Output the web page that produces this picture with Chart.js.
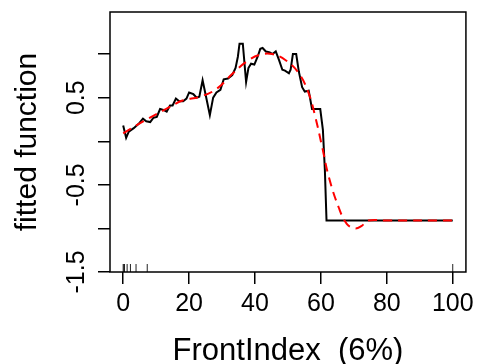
<!DOCTYPE html>
<html>
<head>
<meta charset="utf-8">
<script src="https://cdn.jsdelivr.net/npm/chart.js@4"></script>
<style>
  html, body { margin: 0; padding: 0; background: #fff; }
  #wrap { width: 479px; height: 364px; }
</style>
</head>
<body>
<div id="wrap"><canvas id="myChart" width="479" height="364"></canvas></div>
<script>
// partial dependence (black)
const fitX = [0, 0.9, 1.7, 3.2, 4.7, 6.0, 7.0, 8.2, 9.2, 10.2, 11.2, 12.2, 13.2, 14.2, 15.0,
    16.0, 17.0, 18.2, 19.2, 20.0, 21.3, 22.3, 23.1, 24.1, 25.1, 26.3, 27.3, 28.3, 29.5, 30.5,
    31.8, 33.1, 34.1, 34.8, 35.3, 36.3, 37.3, 38.0, 38.8, 39.8, 40.8, 41.6, 42.3, 43.3, 44.5,
    45.3, 46.3, 47.3, 48.3, 49.1, 50.3, 50.8, 51.5, 52.5, 53.3, 54.3, 55.1, 56.3, 57.3, 58.8,
    59.8, 60.6, 61.2, 61.7, 100];
const fitY = [0.18, 0.04, 0.11, 0.15, 0.2, 0.26, 0.23, 0.22, 0.27, 0.28, 0.37, 0.36, 0.34, 0.41, 0.41,
    0.49, 0.46, 0.46, 0.49, 0.56, 0.54, 0.5, 0.51, 0.7, 0.52, 0.3, 0.5, 0.56, 0.59, 0.71,
    0.72, 0.76, 0.84, 0.97, 1.12, 1.12, 0.68, 0.84, 0.89, 0.88, 0.97, 1.06, 1.07, 1.03, 1.02,
    1.0, 1.03, 0.93, 0.82, 0.81, 0.78, 0.82, 1.0, 1.0, 0.8, 0.62, 0.57, 0.58, 0.37, 0.37,
    0.37, 0.13, -0.33, -0.91, -0.91];

// smoothed fit (red dashed)
const smoothX = [0, 6.2, 13.2, 18.2, 23.3, 28.3, 33.3, 37.3, 41.3, 45.3, 49.3, 53.3, 56.3,
    58.3, 60.4, 62.4, 65.4, 67.9, 70.4, 72.4, 74.4, 80, 100];
const smoothY = [0.09, 0.23, 0.375, 0.47, 0.51, 0.6, 0.78, 0.91, 0.99, 1.0, 0.93, 0.78, 0.55,
    0.28, -0.07, -0.41, -0.76, -0.95, -1.0, -0.97, -0.91, -0.91, -0.91];

// rug marks
const rugX = [0, 0.2, 0.4, 1.2, 2.2, 3.9, 7.3, 100];

const xTicks = [0, 20, 40, 60, 80, 100];
const yTicks = [-1.5, -1.0, -0.5, 0, 0.5, 1.0];
const yLabels = [-1.5, -0.5, 0.5];

const FONT = 'Liberation Sans, Arial, sans-serif';

function pts(xs, ys) {
    return xs.map((x, i) => ({ x: x, y: ys[i] }));
}

// box, rug and rotated y labels like R
const rPlot = {
    id: 'rPlot',
    afterDatasetsDraw(chart) {
        const { ctx, chartArea: a, scales } = chart;
        ctx.save();
        // rug
        ctx.strokeStyle = '#222';
        ctx.lineWidth = 1;
        rugX.forEach(v => {
            const px = scales.x.getPixelForValue(v);
            ctx.beginPath();
            ctx.moveTo(px, a.bottom);
            ctx.lineTo(px, a.bottom - 8);
            ctx.stroke();
        });
        // box
        ctx.strokeStyle = '#000';
        ctx.lineWidth = 1.5;
        ctx.strokeRect(a.left, a.top, a.right - a.left, a.bottom - a.top);
        // y labels
        ctx.fillStyle = '#000';
        ctx.font = '25px ' + FONT;
        ctx.textAlign = 'center';
        ctx.textBaseline = 'middle';
        yLabels.forEach(v => {
            const py = scales.y.getPixelForValue(v);
            ctx.save();
            ctx.translate(77, py);
            ctx.rotate(-Math.PI / 2);
            ctx.fillText(String(v), 0, 0);
            ctx.restore();
        });
        ctx.restore();
    }
};

const ctx = document.getElementById('myChart').getContext('2d');
new Chart(ctx, {
    type: 'line',
    data: {
        datasets: [{
            label: 'smooth',
            data: pts(smoothX, smoothY),
            borderColor: '#ff0000',
            borderWidth: 2,
            borderDash: [9, 6],
            pointRadius: 0,
            tension: 0.4,
            fill: false
        }, {
            label: 'fitted',
            data: pts(fitX, fitY),
            borderColor: '#000000',
            borderWidth: 2,
            pointRadius: 0,
            tension: 0,
            fill: false
        }]
    },
    options: {
        responsive: false,
        animation: false,
        layout: { padding: { top: 12, right: 11, left: 0, bottom: 0 } },
        plugins: {
            legend: { display: false },
            tooltip: { enabled: false }
        },
        scales: {
            x: {
                type: 'linear',
                min: -4,
                max: 104,
                afterBuildTicks: s => { s.ticks = xTicks.map(v => ({ value: v })); },
                afterFit: s => { s.height = 92; },
                grid: { drawOnChartArea: false, drawTicks: true, tickLength: 12, color: '#000', lineWidth: 1.5 },
                border: { display: false },
                ticks: { color: '#000', font: { size: 25, family: FONT }, padding: 5, maxRotation: 0 },
                title: { display: true, text: 'FrontIndex  (6%)', color: '#000', font: { size: 31, family: FONT }, padding: { top: 0, bottom: -6 } }
            },
            y: {
                type: 'linear',
                min: -1.5,
                max: 1.483,
                afterBuildTicks: s => { s.ticks = yTicks.map(v => ({ value: v })); },
                afterFit: s => { s.width = 110; },
                grid: { drawOnChartArea: false, drawTicks: true, tickLength: 12, color: '#000', lineWidth: 1.5 },
                border: { display: false },
                ticks: { display: false },
                title: { display: true, text: 'fitted function', color: '#000', font: { size: 30, family: FONT }, padding: { top: 10, bottom: 0 } }
            }
        }
    },
    plugins: [rPlot]
});
</script>
</body>
</html>
